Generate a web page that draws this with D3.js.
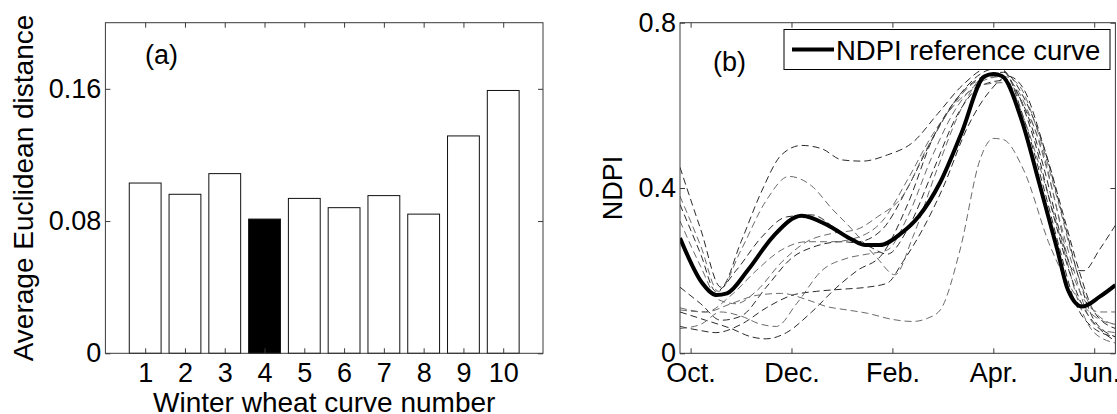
<!DOCTYPE html>
<html>
<head>
<meta charset="utf-8">
<script src="https://cdn.jsdelivr.net/npm/d3@7"></script>
<style>
  body { margin: 0; background: #fff; }
  svg { display: block; font-family: "Liberation Sans", Arial, sans-serif; }
  .tick text { fill: #000; }
</style>
</head>
<body>
<svg id="fig" width="1117" height="414"></svg>
<script>
// ---- panel (a) data ----
var curveNums = [1, 2, 3, 4, 5, 6, 7, 8, 9, 10];
var avgDist = [0.103, 0.0962, 0.1087, 0.0812, 0.0937, 0.0881, 0.0954, 0.0842, 0.1315, 0.159];
var chosenCurve = 4;
var yTicksA = [0, 0.08, 0.16];
var yTickLabelsA = ["0", "0.08", "0.16"];

// ---- panel (b) data (x = months since 1 Oct) ----
var monthTicks = [0, 2, 4, 6, 8];
var monthLabels = ["Oct.", "Dec.", "Feb.", "Apr.", "Jun."];
var yTicksB = [0, 0.4, 0.8];
var yTickLabelsB = ["0", "0.4", "0.8"];

var refCurve = [[-0.21,0.279],[0.23,0.17],[0.51,0.141],[0.72,0.145],[1.14,0.202],[1.63,0.282],[2.2,0.333],
  [2.76,0.307],[3.2,0.275],[3.46,0.262],[3.75,0.262],[4.17,0.29],[4.52,0.331],[4.94,0.412],[5.37,0.533],
  [5.82,0.67],[6.0,0.676],[6.17,0.671],[6.56,0.565],[6.91,0.412],[7.27,0.25],[7.48,0.153],[7.76,0.113],
  [8.11,0.137],[8.42,0.165]];

var wheat1 = [[-0.21,0.45],[0.2,0.3],[0.6,0.16],[1.0,0.27],[1.4,0.39],[1.8,0.48],[2.2,0.503],[2.6,0.495],[3.0,0.468],[3.4,0.465],[3.9,0.48],[4.4,0.51],[4.9,0.58],[5.4,0.65],[5.9,0.69],[6.2,0.685],[6.6,0.57],[7.0,0.4],[7.3,0.26],[7.6,0.13],[8.0,0.06],[8.42,0.04]];
var wheat2 = [[-0.21,0.38],[0.2,0.26],[0.55,0.15],[1.0,0.25],[1.5,0.37],[1.95,0.428],[2.4,0.405],[2.8,0.35],[3.2,0.3],[3.7,0.23],[4.05,0.19],[4.4,0.28],[4.9,0.45],[5.4,0.6],[5.9,0.675],[6.2,0.67],[6.6,0.57],[7.0,0.42],[7.4,0.25],[7.7,0.12],[8.0,0.05],[8.42,0.025]];
var wheat3 = [[-0.21,0.36],[0.2,0.24],[0.5,0.15],[0.9,0.2],[1.4,0.28],[1.9,0.33],[2.4,0.335],[2.9,0.3],[3.3,0.27],[3.8,0.3],[4.3,0.4],[4.8,0.52],[5.3,0.62],[5.8,0.68],[6.1,0.69],[6.4,0.65],[6.8,0.52],[7.2,0.33],[7.5,0.2],[7.75,0.12],[8.1,0.06],[8.42,0.03]];
var wheat4 = [[-0.21,0.32],[0.2,0.21],[0.55,0.13],[0.9,0.12],[1.3,0.15],[1.8,0.22],[2.3,0.27],[2.8,0.29],[3.3,0.3],[3.7,0.33],[4.2,0.38],[4.7,0.5],[5.2,0.6],[5.7,0.66],[6.1,0.67],[6.4,0.65],[6.8,0.55],[7.2,0.38],[7.5,0.22],[7.8,0.13],[8.1,0.1],[8.42,0.1]];
var wheat5 = [[-0.21,0.16],[0.2,0.12],[0.6,0.08],[1.0,0.09],[1.5,0.16],[2.0,0.23],[2.5,0.26],[3.0,0.27],[3.5,0.26],[3.9,0.24],[4.3,0.3],[4.8,0.44],[5.3,0.58],[5.8,0.65],[6.2,0.66],[6.6,0.6],[7.0,0.45],[7.35,0.28],[7.6,0.2],[7.8,0.2],[8.1,0.25],[8.42,0.31]];
var wheat6 = [[-0.21,0.11],[0.3,0.1],[0.8,0.14],[1.3,0.2],[1.8,0.25],[2.3,0.27],[2.8,0.27],[3.3,0.28],[3.8,0.32],[4.3,0.42],[4.8,0.53],[5.3,0.61],[5.8,0.65],[6.2,0.655],[6.6,0.6],[7.0,0.48],[7.3,0.33],[7.6,0.2],[7.85,0.1],[8.1,0.06],[8.42,0.05]];
var wheat7 = [[-0.21,0.1],[0.3,0.08],[0.8,0.06],[1.2,0.04],[1.5,0.035],[1.9,0.05],[2.4,0.1],[2.9,0.16],[3.3,0.2],[3.8,0.24],[4.3,0.36],[4.8,0.52],[5.3,0.62],[5.8,0.67],[6.2,0.68],[6.6,0.62],[7.0,0.5],[7.4,0.33],[7.7,0.2],[8.0,0.1],[8.42,0.06]];
var wheat8 = [[-0.21,0.105],[0.3,0.1],[0.8,0.12],[1.3,0.14],[1.8,0.145],[2.3,0.13],[2.7,0.113],[3.1,0.105],[3.5,0.097],[4.0,0.082],[4.4,0.077],[4.7,0.085],[4.95,0.105],[5.34,0.25],[5.74,0.47],[6.0,0.52],[6.2,0.517],[6.6,0.444],[7.13,0.258],[7.6,0.146],[8.0,0.09],[8.42,0.07]];
var wheat9 = [[-0.21,0.065],[0.2,0.055],[0.5,0.05],[1.0,0.07],[1.5,0.11],[2.0,0.14],[2.5,0.15],[3.0,0.155],[3.5,0.16],[3.9,0.17],[4.2,0.22],[4.6,0.3],[5.0,0.4],[5.5,0.55],[5.9,0.63],[6.3,0.67],[6.6,0.64],[7.0,0.5],[7.4,0.32],[7.7,0.18],[8.0,0.08],[8.42,0.04]];
var wheat10 = [[-0.21,0.06],[0.2,0.07],[0.6,0.1],[1.0,0.09],[1.4,0.07],[1.7,0.065],[2.1,0.12],[2.6,0.2],[3.1,0.23],[3.5,0.24],[3.9,0.25],[4.3,0.33],[4.8,0.48],[5.3,0.6],[5.8,0.66],[6.2,0.67],[6.5,0.65],[6.9,0.53],[7.3,0.36],[7.6,0.22],[7.9,0.12],[8.2,0.08],[8.42,0.07]];
var wheatCurves = [wheat1, wheat2, wheat3, wheat4, wheat5, wheat6, wheat7, wheat8, wheat9, wheat10];

var svg = d3.select("#fig");
svg.append("rect").attr("width", 1117).attr("height", 414).attr("fill", "#fff");

var boxColor = "#3a3a3a";
var tickFont = 27;

function styleAxis(g) {
  g.select(".domain").remove();
  g.selectAll(".tick line").attr("stroke", boxColor);
  g.selectAll(".tick text").style("font-size", tickFont + "px").attr("fill", "#000");
}

// ===================== panel (a) =====================
var xA = d3.scaleLinear().domain([0, 11]).range([105.4, 543]);
var yA = d3.scaleLinear().domain([0, 0.2]).range([353.3, 22.7]);
var gA = svg.append("g");

gA.selectAll(".bar")
  .data(curveNums)
  .enter().append("rect")
    .attr("class", "bar")
    .attr("x", d => xA(d - 0.4))
    .attr("width", d => xA(d + 0.4) - xA(d - 0.4))
    .attr("y", (d, i) => yA(avgDist[i]))
    .attr("height", (d, i) => yA(0) - yA(avgDist[i]))
    .attr("fill", d => d == chosenCurve ? "#000" : "#fff")
    .attr("stroke", "#111")
    .attr("stroke-width", 1);

gA.append("g")
    .attr("transform", "translate(0," + yA(0) + ")")
    .call(d3.axisBottom(xA).tickValues(curveNums).tickSize(-5).tickSizeOuter(0).tickPadding(10))
    .call(styleAxis);
gA.append("g")
    .attr("transform", "translate(0," + yA(0.2) + ")")
    .call(d3.axisTop(xA).tickValues(curveNums).tickSize(-5).tickSizeOuter(0).tickFormat(""))
    .call(styleAxis);
gA.append("g")
    .attr("transform", "translate(" + xA(0) + ",0)")
    .call(d3.axisLeft(yA).tickValues(yTicksA).tickSize(-5).tickSizeOuter(0).tickPadding(4)
      .tickFormat((d, i) => yTickLabelsA[i]))
    .call(styleAxis);
gA.append("g")
    .attr("transform", "translate(" + xA(11) + ",0)")
    .call(d3.axisRight(yA).tickValues(yTicksA).tickSize(-5).tickSizeOuter(0).tickFormat(""))
    .call(styleAxis);

gA.append("rect")
    .attr("x", xA(0)).attr("y", yA(0.2))
    .attr("width", xA(11) - xA(0)).attr("height", yA(0) - yA(0.2))
    .attr("fill", "none").attr("stroke", boxColor).attr("stroke-width", 1);

gA.append("text")
    .attr("x", 145).attr("y", 64)
    .style("font-size", "27px")
    .text("(a)");

gA.append("text")
    .attr("x", (xA(0) + xA(11)) / 2).attr("y", 412)
    .attr("text-anchor", "middle")
    .style("font-size", "28px")
    .text("Winter wheat curve number");

gA.append("text")
    .attr("transform", "translate(33," + (yA(0) + yA(0.2)) / 2 + ") rotate(-90)")
    .attr("text-anchor", "middle")
    .style("font-size", "28px")
    .text("Average Euclidean distance");

// ===================== panel (b) =====================
var xB = d3.scaleLinear().domain([-0.21, 8.42]).range([680, 1115.4]);
var yB = d3.scaleLinear().domain([0, 0.8]).range([353.3, 22.7]);
var gB = svg.append("g");

gB.append("clipPath").attr("id", "clipB")
  .append("rect")
    .attr("x", xB(-0.21)).attr("y", yB(0.8))
    .attr("width", xB(8.42) - xB(-0.21)).attr("height", yB(0) - yB(0.8));

var line = d3.line()
    .x(d => xB(d[0]))
    .y(d => yB(d[1]))
    .curve(d3.curveMonotoneX);

var plot = gB.append("g").attr("clip-path", "url(#clipB)");

plot.selectAll(".wheat")
  .data(wheatCurves)
  .enter().append("path")
    .attr("class", "wheat")
    .attr("d", line)
    .attr("fill", "none")
    .attr("stroke", (d, i) => i % 2 ? "#6a6a6a" : "#2a2a2a")
    .attr("stroke-width", 1)
    .attr("stroke-dasharray", "7,4");

plot.append("path")
    .datum(refCurve)
    .attr("d", line)
    .attr("fill", "none")
    .attr("stroke", "#000")
    .attr("stroke-width", 4)
    .attr("stroke-linejoin", "round");

gB.append("g")
    .attr("transform", "translate(0," + yB(0) + ")")
    .call(d3.axisBottom(xB).tickValues(monthTicks).tickSize(-5).tickSizeOuter(0).tickPadding(10)
      .tickFormat((d, i) => monthLabels[i]))
    .call(styleAxis);
gB.append("g")
    .attr("transform", "translate(0," + yB(0.8) + ")")
    .call(d3.axisTop(xB).tickValues(monthTicks).tickSize(-5).tickSizeOuter(0).tickFormat(""))
    .call(styleAxis);
gB.append("g")
    .attr("transform", "translate(" + xB(-0.21) + ",0)")
    .call(d3.axisLeft(yB).tickValues(yTicksB).tickSize(-5).tickSizeOuter(0).tickPadding(4)
      .tickFormat((d, i) => yTickLabelsB[i]))
    .call(styleAxis);
gB.append("g")
    .attr("transform", "translate(" + xB(8.42) + ",0)")
    .call(d3.axisRight(yB).tickValues(yTicksB).tickSize(-5).tickSizeOuter(0).tickFormat(""))
    .call(styleAxis);

gB.append("rect")
    .attr("x", xB(-0.21)).attr("y", yB(0.8))
    .attr("width", xB(8.42) - xB(-0.21)).attr("height", yB(0) - yB(0.8))
    .attr("fill", "none").attr("stroke", boxColor).attr("stroke-width", 1);

gB.append("text")
    .attr("x", 713).attr("y", 71)
    .style("font-size", "27px")
    .text("(b)");

gB.append("text")
    .attr("transform", "translate(622," + (yB(0) + yB(0.8)) / 2 + ") rotate(-90)")
    .attr("text-anchor", "middle")
    .style("font-size", "27px")
    .text("NDPI");

// legend
var leg = gB.append("g").attr("transform", "translate(784,29.5)");
leg.append("rect")
    .attr("width", 326).attr("height", 40)
    .attr("fill", "#fff").attr("stroke", "#000").attr("stroke-width", 1);
leg.append("line")
    .attr("x1", 8).attr("x2", 50).attr("y1", 20).attr("y2", 20)
    .attr("stroke", "#000").attr("stroke-width", 4);
leg.append("text")
    .attr("x", 52).attr("y", 30)
    .style("font-size", "27.5px")
    .text("NDPI reference curve");
</script>
</body>
</html>
